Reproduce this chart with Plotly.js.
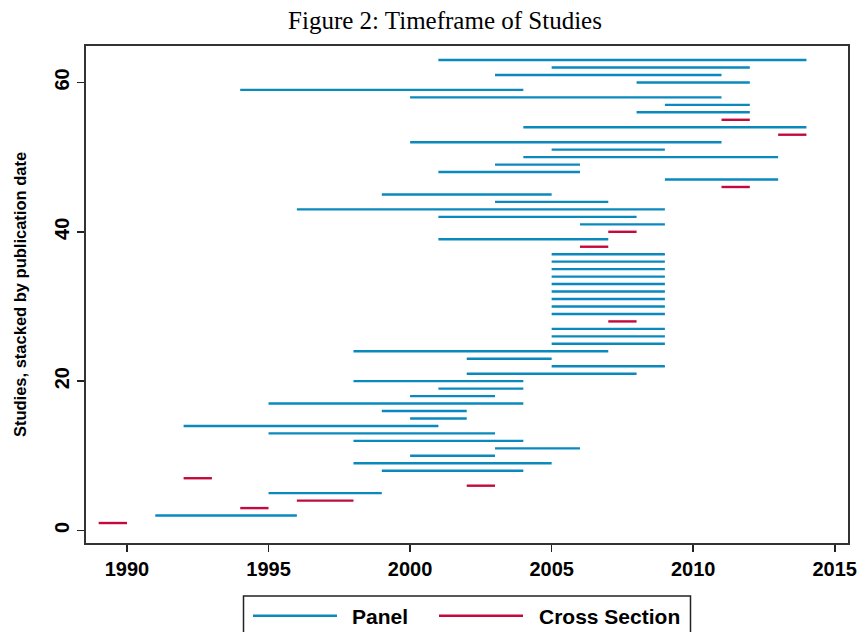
<!DOCTYPE html>
<html>
<head>
<meta charset="utf-8">
<script src="https://cdn.plot.ly/plotly-3.0.1.min.js"></script>
<style>
  html, body { margin: 0; padding: 0; background: #ffffff; }
  #chart { width: 862px; height: 632px; }
</style>
</head>
<body>
<div id="chart"></div>
<script>
// Study position (stacked by publication date)
const studyRank = [
  1, 2, 3, 4, 5, 6, 7, 8, 9, 10,
  11, 12, 13, 14, 15, 16, 17, 18, 19, 20,
  21, 22, 23, 24, 25, 26, 27, 28, 29, 30,
  31, 32, 33, 34, 35, 36, 37, 38, 39, 40,
  41, 42, 43, 44, 45, 46, 47, 48, 49, 50,
  51, 52, 53, 54, 55, 56, 57, 58, 59, 60,
  61, 62, 63
];
// First year of each study's sample
const startYear = [
  1989, 1991, 1994, 1996, 1995, 2002, 1992, 1999, 1998, 2000,
  2003, 1998, 1995, 1992, 2000, 1999, 1995, 2000, 2001, 1998,
  2002, 2005, 2002, 1998, 2005, 2005, 2005, 2007, 2005, 2005,
  2005, 2005, 2005, 2005, 2005, 2005, 2005, 2006, 2001, 2007,
  2006, 2001, 1996, 2003, 1999, 2011, 2009, 2001, 2003, 2004,
  2005, 2000, 2013, 2004, 2011, 2008, 2009, 2000, 1994, 2008,
  2003, 2005, 2001
];
// Last year of each study's sample
const endYear = [
  1990, 1996, 1995, 1998, 1999, 2003, 1993, 2004, 2005, 2003,
  2006, 2004, 2003, 2001, 2002, 2002, 2004, 2003, 2004, 2004,
  2008, 2009, 2005, 2007, 2009, 2009, 2009, 2008, 2009, 2009,
  2009, 2009, 2009, 2009, 2009, 2009, 2009, 2007, 2007, 2008,
  2009, 2008, 2009, 2007, 2005, 2012, 2013, 2006, 2006, 2013,
  2009, 2011, 2014, 2014, 2012, 2012, 2012, 2011, 2004, 2012,
  2011, 2012, 2014
];
// Study design: P = Panel, C = Cross Section
const design = [
  'C', 'P', 'C', 'C', 'P', 'C', 'C', 'P', 'P', 'P',
  'P', 'P', 'P', 'P', 'P', 'P', 'P', 'P', 'P', 'P',
  'P', 'P', 'P', 'P', 'P', 'P', 'P', 'C', 'P', 'P',
  'P', 'P', 'P', 'P', 'P', 'P', 'P', 'C', 'P', 'C',
  'P', 'P', 'P', 'P', 'P', 'C', 'P', 'P', 'P', 'P',
  'P', 'P', 'C', 'P', 'C', 'P', 'P', 'P', 'P', 'P',
  'P', 'P', 'P'
];
const seriesNames = { P: 'Panel', C: 'Cross Section' };
const xTickVals = [1990, 1995, 2000, 2005, 2010, 2015];
const yTickVals = [0, 20, 40, 60];

const colors = { P: '#0a89bd', C: '#c40a3c' };

function segTrace(code) {
  const xs = [], ys = [];
  for (let i = 0; i < studyRank.length; i++) {
    if (design[i] !== code) continue;
    xs.push(startYear[i], endYear[i], null);
    ys.push(studyRank[i], studyRank[i], null);
  }
  return {
    type: 'scatter', mode: 'lines', name: seriesNames[code],
    x: xs, y: ys, connectgaps: false,
    line: { color: colors[code], width: 2.4 },
    showlegend: false, hoverinfo: 'skip'
  };
}

const data = [segTrace('P'), segTrace('C')];

const L = 86, R = 848, T = 46, B = 543;
const px = v => (v - L) / (R - L);
const py = v => (B - v) / (B - T);

const sansBold = { family: 'Liberation Sans, Arial, sans-serif', size: 20, color: '#000', weight: 'bold' };

const layout = {
  width: 862, height: 632,
  margin: { l: L, r: 862 - R, t: T, b: 632 - B, pad: 0 },
  paper_bgcolor: '#ffffff', plot_bgcolor: '#ffffff',
  showlegend: false,
  title: {
    text: 'Figure 2: Timeframe of Studies',
    font: { family: 'Liberation Serif, Times New Roman, serif', size: 25, color: '#000' },
    x: 445 / 862, xref: 'container', xanchor: 'center',
    y: 1 - 20 / 632, yref: 'container', yanchor: 'middle'
  },
  xaxis: {
    range: [1988.552, 2015.468], tickvals: xTickVals, ticktext: xTickVals.map(String),
    ticks: 'outside', ticklen: 7, tickwidth: 1.5, tickcolor: '#222',
    showline: true, mirror: true, linecolor: '#333', linewidth: 1.6,
    showgrid: false, zeroline: false, tickfont: sansBold, automargin: false
  },
  yaxis: {
    range: [-1.674, 64.88], tickvals: yTickVals, ticktext: yTickVals.map(String),
    tickangle: -90,
    ticks: 'outside', ticklen: 7, tickwidth: 1.5, tickcolor: '#222',
    showline: true, mirror: true, linecolor: '#333', linewidth: 1.6,
    showgrid: false, zeroline: false, tickfont: sansBold, automargin: false,
    title: {
      text: 'Studies, stacked by publication date',
      font: { family: 'Liberation Sans, Arial, sans-serif', size: 16.5, color: '#000', weight: 'bold' },
      standoff: 20
    }
  },
  shapes: [
    { type: 'rect', xref: 'paper', yref: 'paper', x0: px(243.5), x1: px(690.5), y0: py(645), y1: py(596),
      line: { color: '#222', width: 1.5 }, fillcolor: 'rgba(0,0,0,0)' },
    { type: 'line', xref: 'paper', yref: 'paper', x0: px(253), x1: px(337), y0: py(615.7), y1: py(615.7),
      line: { color: colors.P, width: 2.4 } },
    { type: 'line', xref: 'paper', yref: 'paper', x0: px(439), x1: px(523), y0: py(615.7), y1: py(615.7),
      line: { color: colors.C, width: 2.4 } }
  ],
  annotations: [
    { xref: 'paper', yref: 'paper', x: px(350), y: py(616), xanchor: 'left', yanchor: 'middle',
      text: seriesNames.P, showarrow: false,
      font: { family: 'Liberation Sans, Arial, sans-serif', size: 21, color: '#000', weight: 'bold' } },
    { xref: 'paper', yref: 'paper', x: px(536.5), y: py(616), xanchor: 'left', yanchor: 'middle',
      text: seriesNames.C, showarrow: false,
      font: { family: 'Liberation Sans, Arial, sans-serif', size: 21, color: '#000', weight: 'bold' } }
  ]
};

Plotly.newPlot('chart', data, layout, { displayModeBar: false, staticPlot: true });
</script>
</body>
</html>
